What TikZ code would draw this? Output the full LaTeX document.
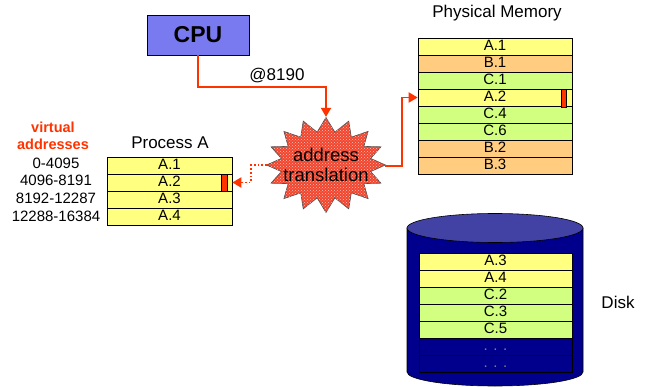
\documentclass[tikz,border=0pt]{standalone}
\usepackage{fontspec}
\setmainfont{Liberation Sans}
\usetikzlibrary{
  arrows.meta,calc,positioning,patterns,shapes.symbols
}
\definecolor{CpuBlue}{RGB}{122,122,240}
\definecolor{LinkRed}{RGB}{255,51,0}
\definecolor{BurstRed}{RGB}{240,70,45}
\definecolor{PageA}{RGB}{255,255,128}
\definecolor{PageB}{RGB}{255,204,128}
\definecolor{PageC}{RGB}{210,255,128}
\definecolor{DiskBlue}{RGB}{0,0,140}
\definecolor{DiskTop}{RGB}{66,66,164}
\tikzset{
  page/.style={draw,line width=0.6pt,minimum height=17pt,inner sep=0pt,
    text height=11pt,text depth=2.5pt,font=\fontsize{15pt}{15pt}\selectfont},
  lbl/.style={inner sep=0pt,font=\fontsize{17pt}{17pt}\selectfont},
  conn/.style={->,line width=1.8pt,LinkRed},
}
\begin{document}
\begin{tikzpicture}[x=1pt,y=-1pt,>={Triangle[length=9pt,width=10pt]}]
      \useasboundingbox (0,0) rectangle (647,387);
      % cpu and translation
      \node[draw,fill=CpuBlue,minimum width=102pt,minimum height=40pt,
        font=\bfseries\fontsize{23pt}{23pt}\selectfont] (cpu) at (198,35) {CPU};
      \node[starburst,starburst points=16,starburst point height=14pt,
        random starburst=0,minimum width=119pt,minimum height=95pt,
        draw=black!70,line width=0.6pt,fill=BurstRed,
        postaction={pattern=crosshatch dots,pattern color=white!75!red},
        align=center,inner sep=0pt,
        font=\fontsize{18.5pt}{20pt}\selectfont] (trans) at (326,165)
        {\makebox[0pt]{address}\\\makebox[0pt]{translation}};
      \coordinate (transW) at ($(trans.center)+(-59,0)$);
      \coordinate (transE) at ($(trans.center)+(59,1)$);
      % process A
      \node[lbl] (procA) at (170,143) {Process A};
      \foreach \lab [count=\i] in {A.1,A.2,A.3,A.4}
        \node[page,fill=PageA,minimum width=125pt] (pa\i) at (169.5,148.5+17*\i) {\lab};
      \draw[fill=LinkRed,line width=0.6pt] (221,174) rectangle (227,191);
      \node[lbl,font=\bfseries\fontsize{14.5pt}{17pt}\selectfont,text=LinkRed,
        align=center] (virt) at (53,136) {virtual\\addresses};
      \foreach \lab/\y [count=\i] in {0-4095/163,4096-8191/180,8192-12287/198,12288-16384/216}
        \node[lbl,font=\fontsize{15pt}{15pt}\selectfont] (va\i) at (56,\y) {\lab};
      % physical memory
      \node[lbl] (physLbl) at (497,13) {Physical Memory};
      \foreach \lab/\col [count=\i] in {A.1/PageA,B.1/PageB,C.1/PageC,A.2/PageA,
          C.4/PageC,C.6/PageC,B.2/PageB,B.3/PageB}
        \node[page,fill=\col,minimum width=154pt] (pm\i) at (495,29.5+17*\i) {\lab};
      \draw[fill=LinkRed,line width=0.6pt] (561,89) rectangle (566,107);
      % disk
      \draw[fill=DiskBlue,line width=0.6pt] (407,228) -- (407,372)
        arc[start angle=180,end angle=0,x radius=88,y radius=14] -- (583,228) -- cycle;
      \draw[fill=DiskTop,line width=0.6pt] (495,228) ellipse[x radius=88,y radius=14.5];
      \foreach \lab/\col [count=\i] in {A.3/PageA,A.4/PageA,C.2/PageC,C.3/PageC,C.5/PageC}
        \node[page,fill=\col,minimum width=153pt] (dk\i) at (495.5,244.5+17*\i) {\lab};
      \node[page,fill=DiskBlue,minimum width=153pt,text=gray] (dk6) at (495.5,346.5) {. . .};
      \node[page,fill=DiskBlue,minimum width=153pt,text=gray] (dk7) at (495.5,363.5) {. . .};
      \node[lbl] (diskLbl) at (618,302) {Disk};
      % connectors
      \draw[conn] (cpu.south) -- ++(0,32) -| (trans.north);
      \node[lbl] (addr) at (277,76) {@8190};
      \draw[conn,dotted] (transW) -- ++(-16,0) |- (pa2.east);
      \draw[conn] (transE) -- ++(17,0) |- (pm4.west);
    \end{tikzpicture}
\end{document}
